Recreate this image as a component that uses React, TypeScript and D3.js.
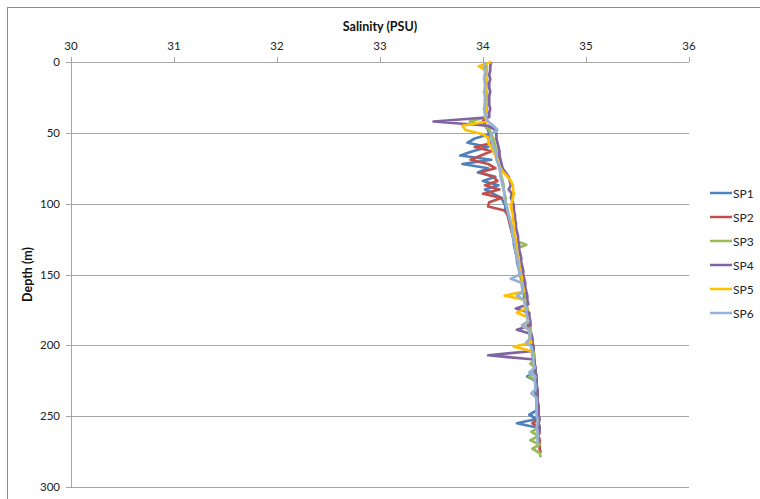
import React from "react";
import * as d3 from "d3";

// Depth (m) sampled every 3 m
const depths: number[] = [
  0, 3, 6, 9, 12, 15, 18, 21, 24, 27, 30, 33, 36, 39, 42, 45, 48, 51, 54, 57,
  60, 63, 66, 69, 72, 75, 78, 81, 84, 87, 90, 93, 96, 99, 102, 105, 108, 111, 114, 117,
  120, 123, 126, 129, 132, 135, 138, 141, 144, 147, 150, 153, 156, 159, 162, 165, 168, 171, 174, 177,
  180, 183, 186, 189, 192, 195, 198, 201, 204, 207, 210, 213, 216, 219, 222, 225, 228, 231, 234, 237,
  240, 243, 246, 249, 252, 255, 258, 261, 264, 267, 270, 273, 276, 279,
];

const sp1: number[] = [
  34.02, 34.03, 34.03, 34.02, 34.03, 34.03, 34.02, 34.03, 34.03, 34.02,
  34.03, 34.03, 34.02, 34.03, 34.0, 34.02, 34.05, 34.06, 33.92, 33.85,
  34.05, 33.9, 33.78, 34.08, 33.8, 34.05, 33.95, 34.12, 34.0, 34.15,
  34.02, 34.1, 34.18, 34.2, 34.22, 34.21, 34.24, 34.25, 34.26, 34.27,
  34.28, 34.29, 34.3, 34.3, 34.31, 34.32, 34.33, 34.33, 34.34, 34.35,
  34.36, 34.37, 34.38, 34.38, 34.39, 34.4, 34.4, 34.41, 34.42, 34.42,
  34.43, 34.44, 34.44, 34.45, 34.45, 34.46, 34.47, 34.47, 34.48, 34.48,
  34.49, 34.49, 34.5, 34.5, 34.43, 34.51, 34.51, 34.51, 34.51, 34.52,
  34.52, 34.52, 34.52, 34.45, 34.52, 34.33, 34.52,
];
const sp2: number[] = [
  34.03, 34.02, 34.03, 34.03, 34.02, 34.03, 34.03, 34.02, 34.03, 34.03,
  34.02, 34.03, 34.03, 34.02, 34.0, 34.03, 34.06, 34.08, 34.05, 34.1,
  33.92, 34.08, 33.98, 33.88, 34.05, 34.12, 33.97, 34.1, 34.14, 34.02,
  34.16, 34.0, 34.18, 34.06, 34.05, 34.22, 34.24, 34.25, 34.26, 34.27,
  34.28, 34.29, 34.3, 34.31, 34.32, 34.32, 34.33, 34.34, 34.35, 34.36,
  34.37, 34.38, 34.38, 34.39, 34.4, 34.41, 34.41, 34.42, 34.43, 34.43,
  34.44, 34.45, 34.45, 34.46, 34.46, 34.47, 34.48, 34.48, 34.49, 34.49,
  34.5, 34.5, 34.51, 34.51, 34.52, 34.51, 34.52, 34.52, 34.53, 34.53,
  34.53, 34.54, 34.53, 34.54, 34.54, 34.48, 34.54, 34.55, 34.54, 34.55,
  34.55, 34.55, 34.56,
];
const sp3: number[] = [
  34.03, 34.03, 34.02, 34.03, 34.03, 34.02, 34.03, 34.03, 34.02, 34.03,
  34.03, 34.02, 34.03, 34.03, 33.87, 34.02, 34.06, 34.08, 34.1, 34.11,
  34.12, 34.13, 34.14, 34.14, 34.15, 34.16, 34.17, 34.18, 34.19, 34.2,
  34.2, 34.21, 34.22, 34.22, 34.23, 34.24, 34.25, 34.26, 34.27, 34.28,
  34.29, 34.3, 34.31, 34.42, 34.32, 34.33, 34.34, 34.34, 34.35, 34.36,
  34.37, 34.38, 34.39, 34.4, 34.4, 34.41, 34.42, 34.42, 34.43, 34.44,
  34.44, 34.45, 34.46, 34.46, 34.47, 34.47, 34.48, 34.49, 34.49, 34.5,
  34.5, 34.46, 34.51, 34.51, 34.45, 34.52, 34.52, 34.52, 34.53, 34.53,
  34.53, 34.53, 34.54, 34.54, 34.54, 34.54, 34.55, 34.47, 34.54, 34.46,
  34.55, 34.48, 34.55, 34.56,
];
const sp4: number[] = [
  34.08, 34.07, 34.07, 34.06, 34.07, 34.06, 34.06, 34.07, 34.06, 34.06,
  34.06, 34.07, 34.06, 34.06, 33.52, 34.05, 34.12, 34.13, 34.13, 34.14,
  34.15, 34.16, 34.16, 34.17, 34.18, 34.19, 34.22, 34.25, 34.26, 34.27,
  34.25, 34.28, 34.27, 34.29, 34.3, 34.3, 34.31, 34.31, 34.32, 34.32,
  34.33, 34.34, 34.34, 34.35, 34.35, 34.36, 34.37, 34.37, 34.38, 34.39,
  34.39, 34.4, 34.41, 34.41, 34.42, 34.43, 34.43, 34.44, 34.32, 34.45,
  34.45, 34.46, 34.46, 34.33, 34.47, 34.48, 34.48, 34.49, 34.49, 34.05,
  34.5, 34.5, 34.51, 34.51, 34.52, 34.52, 34.52, 34.53, 34.53, 34.53,
  34.53, 34.54, 34.54, 34.54, 34.55, 34.54, 34.55, 34.55,
];
const sp5: number[] = [
  34.08, 33.96, 34.03, 34.02, 34.03, 34.02, 34.03, 34.02, 34.03, 34.02,
  34.02, 34.03, 34.02, 34.02, 34.04, 33.8, 33.83, 34.0, 34.06, 34.05,
  34.08, 34.1, 34.12, 34.14, 34.15, 34.17, 34.2, 34.24, 34.27, 34.29,
  34.29, 34.3, 34.29, 34.28, 34.27, 34.28, 34.29, 34.29, 34.3, 34.3,
  34.3, 34.31, 34.32, 34.32, 34.33, 34.33, 34.34, 34.35, 34.35, 34.36,
  34.37, 34.38, 34.37, 34.39, 34.4, 34.21, 34.41, 34.4, 34.42, 34.33,
  34.43, 34.44, 34.38, 34.45, 34.46, 34.45, 34.47, 34.3, 34.47, 34.48,
  34.49, 34.49, 34.5,
];
const sp6: number[] = [
  34.02, 34.01, 34.02, 34.02, 34.01, 34.02, 34.02, 34.01, 34.02, 34.02,
  34.02, 34.01, 34.02, 34.03, 34.05, 34.1, 34.14, 34.08, 34.07, 34.09,
  34.1, 34.12, 34.13, 34.13, 34.15, 34.16, 34.17, 34.17, 34.18, 34.19,
  34.2, 34.21, 34.21, 34.22, 34.23, 34.24, 34.25, 34.26, 34.27, 34.28,
  34.28, 34.29, 34.3, 34.31, 34.31, 34.32, 34.33, 34.34, 34.34, 34.35,
  34.36, 34.27, 34.38, 34.38, 34.39, 34.33, 34.4, 34.41, 34.42, 34.42,
  34.43, 34.44, 34.38, 34.45, 34.45, 34.46, 34.42, 34.47, 34.48, 34.48,
  34.49, 34.49, 34.5, 34.45, 34.51, 34.5, 34.51, 34.51, 34.47, 34.52,
  34.52, 34.52, 34.52, 34.52, 34.53, 34.53, 34.52, 34.53, 34.53, 34.53,
  34.54,
];

const seriesNames: string[] = ["SP1", "SP2", "SP3", "SP4", "SP5", "SP6"];
const seriesValues: number[][] = [sp1, sp2, sp3, sp4, sp5, sp6];
const colors: string[] = ["#4F81BD", "#C0504D", "#9BBB59", "#8064A2", "#FFC000", "#95B3D7"];
const xTicks: number[] = [30, 31, 32, 33, 34, 35, 36];
const yTicks: number[] = [0, 50, 100, 150, 200, 250, 300];

const W = 760;
const H = 499;
const FONT = "Lato, 'Open Sans', sans-serif";

export default function App() {
  const x = d3.scaleLinear().domain([30, 36]).range([71, 689]);
  const y = d3.scaleLinear().domain([0, 300]).range([62, 487]);
  const line = d3
    .line<[number, number]>()
    .x((d) => x(d[0]))
    .y((d) => y(d[1]));

  return (
    <svg
      width={W}
      height={H}
      style={{ position: "absolute", left: 0, top: 0, background: "#fff" }}
      fontFamily={FONT}
    >
      <rect x={7.5} y={7.5} width={W} height={H} fill="#fff" stroke="#8C8C8C" strokeWidth={1} />
      {yTicks.slice(1).map((t) => (
        <line key={"g" + t} x1={x(30)} x2={x(36)} y1={Math.round(y(t)) + 0.5} y2={Math.round(y(t)) + 0.5} stroke="#A6A6A6" strokeWidth={1} />
      ))}
      <line x1={x(30)} x2={x(36)} y1={62.5} y2={62.5} stroke="#A6A6A6" />
      {xTicks.map((t) => (
        <g key={"xt" + t}>
          <line x1={Math.round(x(t)) + 0.5} x2={Math.round(x(t)) + 0.5} y1={57} y2={62} stroke="#A6A6A6" />
          <text x={x(t)} y={50} textAnchor="middle" fontSize={11.5} fill="#222">
            {t}
          </text>
        </g>
      ))}
      <line x1={71.5} x2={71.5} y1={62} y2={y(300)} stroke="#A6A6A6" />
      {yTicks.map((t) => (
        <g key={"yt" + t}>
          <line x1={66} x2={71} y1={Math.round(y(t)) + 0.5} y2={Math.round(y(t)) + 0.5} stroke="#A6A6A6" />
          <text x={60} y={y(t) + 4} textAnchor="end" fontSize={11.5} fill="#222">
            {t}
          </text>
        </g>
      ))}
      <text x={380} y={31} textAnchor="middle" fontSize={12.5} fontWeight="bold" fill="#111">
        Salinity (PSU)
      </text>
      <text
        transform={`translate(32,${y(150)}) rotate(-90)`}
        textAnchor="middle"
        fontSize={12.5}
        fontWeight="bold"
        fill="#111"
      >
        Depth (m)
      </text>
      {seriesValues.map((vals, i) => {
        const pts: [number, number][] = vals.map((v, j) => [v, depths[j]]);
        return (
          <path
            key={seriesNames[i]}
            d={line(pts) || ""}
            fill="none"
            stroke={colors[i]}
            strokeWidth={2.75}
            strokeLinejoin="round"
          />
        );
      })}
      {seriesNames.map((n, i) => (
        <g key={"lg" + n}>
          <line x1={710} x2={732} y1={193 + i * 24} y2={193 + i * 24} stroke={colors[i]} strokeWidth={2.5} />
          <text x={733} y={193 + i * 24 + 4.5} fontSize={12} fill="#222">
            {n}
          </text>
        </g>
      ))}
    </svg>
  );
}
